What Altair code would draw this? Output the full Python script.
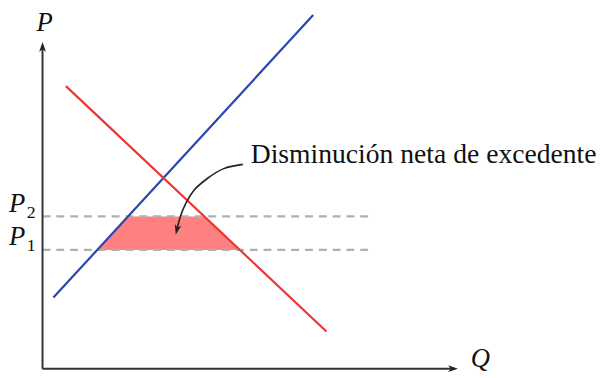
import altair as alt
import pandas as pd

# ---- data (Q, P units; origin at the axes' corner) ----
supply_q = [1.1, 27.43]
supply_p = [7.2, 35.83]
demand_q = [2.37, 28.77]
demand_p = [28.63, 3.77]
price_names = ["P1", "P2"]
price_levels = [12.03, 15.43]
dash_end_q = [33.0, 33.0]
shade_left_q = [5.54, 8.67]
shade_right_q = [20.0, 16.39]
axis_q_end = 41.6
axis_p_end = 32.6
curve_q = [20.3, 18.37, 16.7, 15.37, 14.53, 13.97, 13.62]
curve_p = [20.7, 20.27, 19.27, 18.1, 16.77, 15.43, 14.1]
curve_tip = (13.5, 13.6)
annotation = "Disminución neta de excedente"

SERIF = "'Liberation Serif', 'DejaVu Serif', serif"

xs = alt.Scale(domain=[-3.5, 56.8], nice=False, zero=False)
ys = alt.Scale(domain=[-0.7, 36.3], nice=False, zero=False)

def X(f):
    return alt.X(f, type="quantitative", scale=xs, axis=None)

def Y(f):
    return alt.Y(f, type="quantitative", scale=ys, axis=None)

shade_df = pd.DataFrame({"p": price_levels, "ql": shade_left_q, "qr": shade_right_q})
shade = alt.Chart(shade_df).mark_area(orient="horizontal", color="#ff8080", opacity=1).encode(
    y=Y("p"), x=X("ql"), x2="qr")

dash_df = pd.DataFrame({"name": price_names, "p": price_levels, "q0": [0, 0], "q1": dash_end_q})
dashes = alt.Chart(dash_df).mark_rule(color="#b0b0b0", strokeWidth=2.2, strokeDash=[8, 6]).encode(
    x=X("q0"), x2="q1", y=Y("p"))

sup_df = pd.DataFrame({"q": supply_q, "p": supply_p})
supply = alt.Chart(sup_df).mark_line(color="#2a44b0", strokeWidth=2.2).encode(x=X("q"), y=Y("p"))

dem_df = pd.DataFrame({"q": demand_q, "p": demand_p})
demand = alt.Chart(dem_df).mark_line(color="#ee3333", strokeWidth=2.2).encode(x=X("q"), y=Y("p"))

axes_df = pd.DataFrame({"q0": [0, 0], "p0": [0, 0], "q1": [axis_q_end, 0], "p1": [0, axis_p_end]})
axes = alt.Chart(axes_df).mark_rule(color="#333333", strokeWidth=2).encode(
    x=X("q0"), x2="q1", y=Y("p0"), y2="p1")

arrow_shape = "M0,0 L0.65,1.9 L0,1.4 L-0.65,1.9 Z"
heads_df = pd.DataFrame({"q": [axis_q_end + 0.5, 0, curve_tip[0]],
                         "p": [0, axis_p_end + 0.5, curve_tip[1]],
                         "ang": [90, 0, 194]})
heads = alt.Chart(heads_df).mark_point(shape=arrow_shape, filled=True, color="#222222",
                                      opacity=1, size=110).encode(
    x=X("q"), y=Y("p"), angle=alt.Angle("ang:Q", scale=None))

curve_df = pd.DataFrame({"i": list(range(len(curve_q))), "q": curve_q, "p": curve_p})
curve = alt.Chart(curve_df).mark_line(color="#222222", strokeWidth=1.6, interpolate="natural").encode(
    x=X("q"), y=Y("p"), order="i:O")

it_df = pd.DataFrame({"t": ["P", "Q", "P", "P"],
                      "q": [-0.6, 43.4, -3.4, -3.4],
                      "p": [34.2, 0.2, 15.9, 12.5]})
italics = alt.Chart(it_df).mark_text(font=SERIF, fontStyle="italic", fontSize=27,
                                     align="left", baseline="alphabetic", color="#111111").encode(
    x=X("q"), y=Y("p"), text="t")

sub_df = pd.DataFrame({"t": ["2", "1"], "q": [-1.6, -1.6], "p": [15.3, 11.9]})
subs = alt.Chart(sub_df).mark_text(font=SERIF, fontSize=18,
                                   align="left", baseline="alphabetic", color="#111111").encode(
    x=X("q"), y=Y("p"), text="t")

ann_df = pd.DataFrame({"t": [annotation], "q": [21.1], "p": [20.8]})
ann = alt.Chart(ann_df).mark_text(font=SERIF, fontSize=28,
                                  align="left", baseline="alphabetic", color="#111111").encode(
    x=X("q"), y=Y("p"), text="t")

chart = alt.layer(shade, dashes, supply, demand, axes, curve, heads, italics, subs, ann).properties(
    width=603, height=370, autosize="none", padding=0
).configure_view(stroke=None)

chart.save("out.html", embed_options={"renderer": "svg", "actions": False})
